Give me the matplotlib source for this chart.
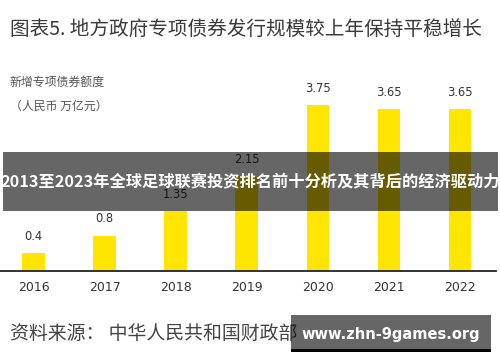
"""
Special-purpose local government bond quota chart (2016-2022),
with the overlay banner and watermark seen on the reference image.
"""

import matplotlib
matplotlib.use("Agg")
import matplotlib.pyplot as plt
from matplotlib.patches import Rectangle

plt.rcParams["font.family"] = ["Noto Sans CJK SC", "DejaVu Sans"]

# data
years = ["2016", "2017", "2018", "2019", "2020", "2021", "2022"]
quota = [0.4, 0.8, 1.35, 2.15, 3.75, 3.65, 3.65]
value_labels = ["0.4", "0.8", "1.35", "2.15", "3.75", "3.65", "3.65"]

title = "图表5. 地方政府专项债券发行规模较上年保持平稳增长"
ylabel_lines = ["新增专项债券额度", "（人民币 万亿元）"]
source = "资料来源： 中华人民共和国财政部"
banner = "2013至2023年全球足球联赛投资排名前十分析及其背后的经济驱动力"
watermark = "www.zhn-9games.org"

W, H = 500, 362


def fx(px):
    return px / W


def fy(py):
    # pixel row from the top -> figure fraction from the bottom
    return 1 - py / H


fig = plt.figure(figsize=(W / 100, H / 100), dpi=100)
fig.patch.set_facecolor("white")

ax = fig.add_axes([0, fy(271), fx(496), (271 - 60) / H])
x = range(len(years))
ax.bar(x, quota, width=0.32, color="#FFE500", zorder=2)
for xi, v, lab in zip(x, quota, value_labels):
    ax.annotate(lab, (xi, v), xytext=(0, 12), textcoords="offset points",
                ha="center", va="center", fontsize=8.3, color="#333333",
                family="DejaVu Sans")

ax.set_xlim(-0.471, 6.505)
ax.set_ylim(0, 211 / 44.3)
ax.set_xticks(list(x))
ax.set_xticklabels(years, fontsize=9, color="#333333", family="DejaVu Sans")
ax.tick_params(axis="x", length=0, pad=7)
ax.set_yticks([])
for side in ["top", "left", "right"]:
    ax.spines[side].set_visible(False)
ax.spines["bottom"].set_color("#222222")
ax.spines["bottom"].set_linewidth(1.3)

# header and footer texts
fig.text(fx(10), fy(30), title, fontsize=14.1, color="#3a3a3a",
         ha="left", va="center")
fig.text(fx(10), fy(82), ylabel_lines[0], fontsize=8.6, color="#555555",
         ha="left", va="center")
fig.text(fx(10), fy(106), ylabel_lines[1], fontsize=8.6, color="#555555",
         ha="left", va="center")
fig.text(fx(10), fy(333), source, fontsize=13.6, color="#444444",
         ha="left", va="center")

# overlay banner
fig.add_artist(Rectangle((fx(3), fy(211)), fx(495), (211 - 152) / H,
                         transform=fig.transFigure, facecolor="black",
                         alpha=0.6, edgecolor="none", zorder=4))
fig.text(fx(250), fy(181.5), banner, fontsize=11.7, color="white",
         fontweight="bold", ha="center", va="center", zorder=5)

# watermark box
fig.add_artist(Rectangle((fx(291), fy(349)), fx(200), (349 - 315) / H,
                         transform=fig.transFigure, facecolor="black",
                         alpha=0.6, edgecolor="none", zorder=4))
fig.add_artist(Rectangle((fx(291), fy(352)), fx(200), 3 / H,
                         transform=fig.transFigure, facecolor="black",
                         edgecolor="none", zorder=4))
fig.text(fx(391), fy(334), watermark, fontsize=10.5, color="white",
         fontweight="bold", ha="center", va="center", zorder=5,
         family="DejaVu Sans")

fig.savefig("out.png", dpi=100)
